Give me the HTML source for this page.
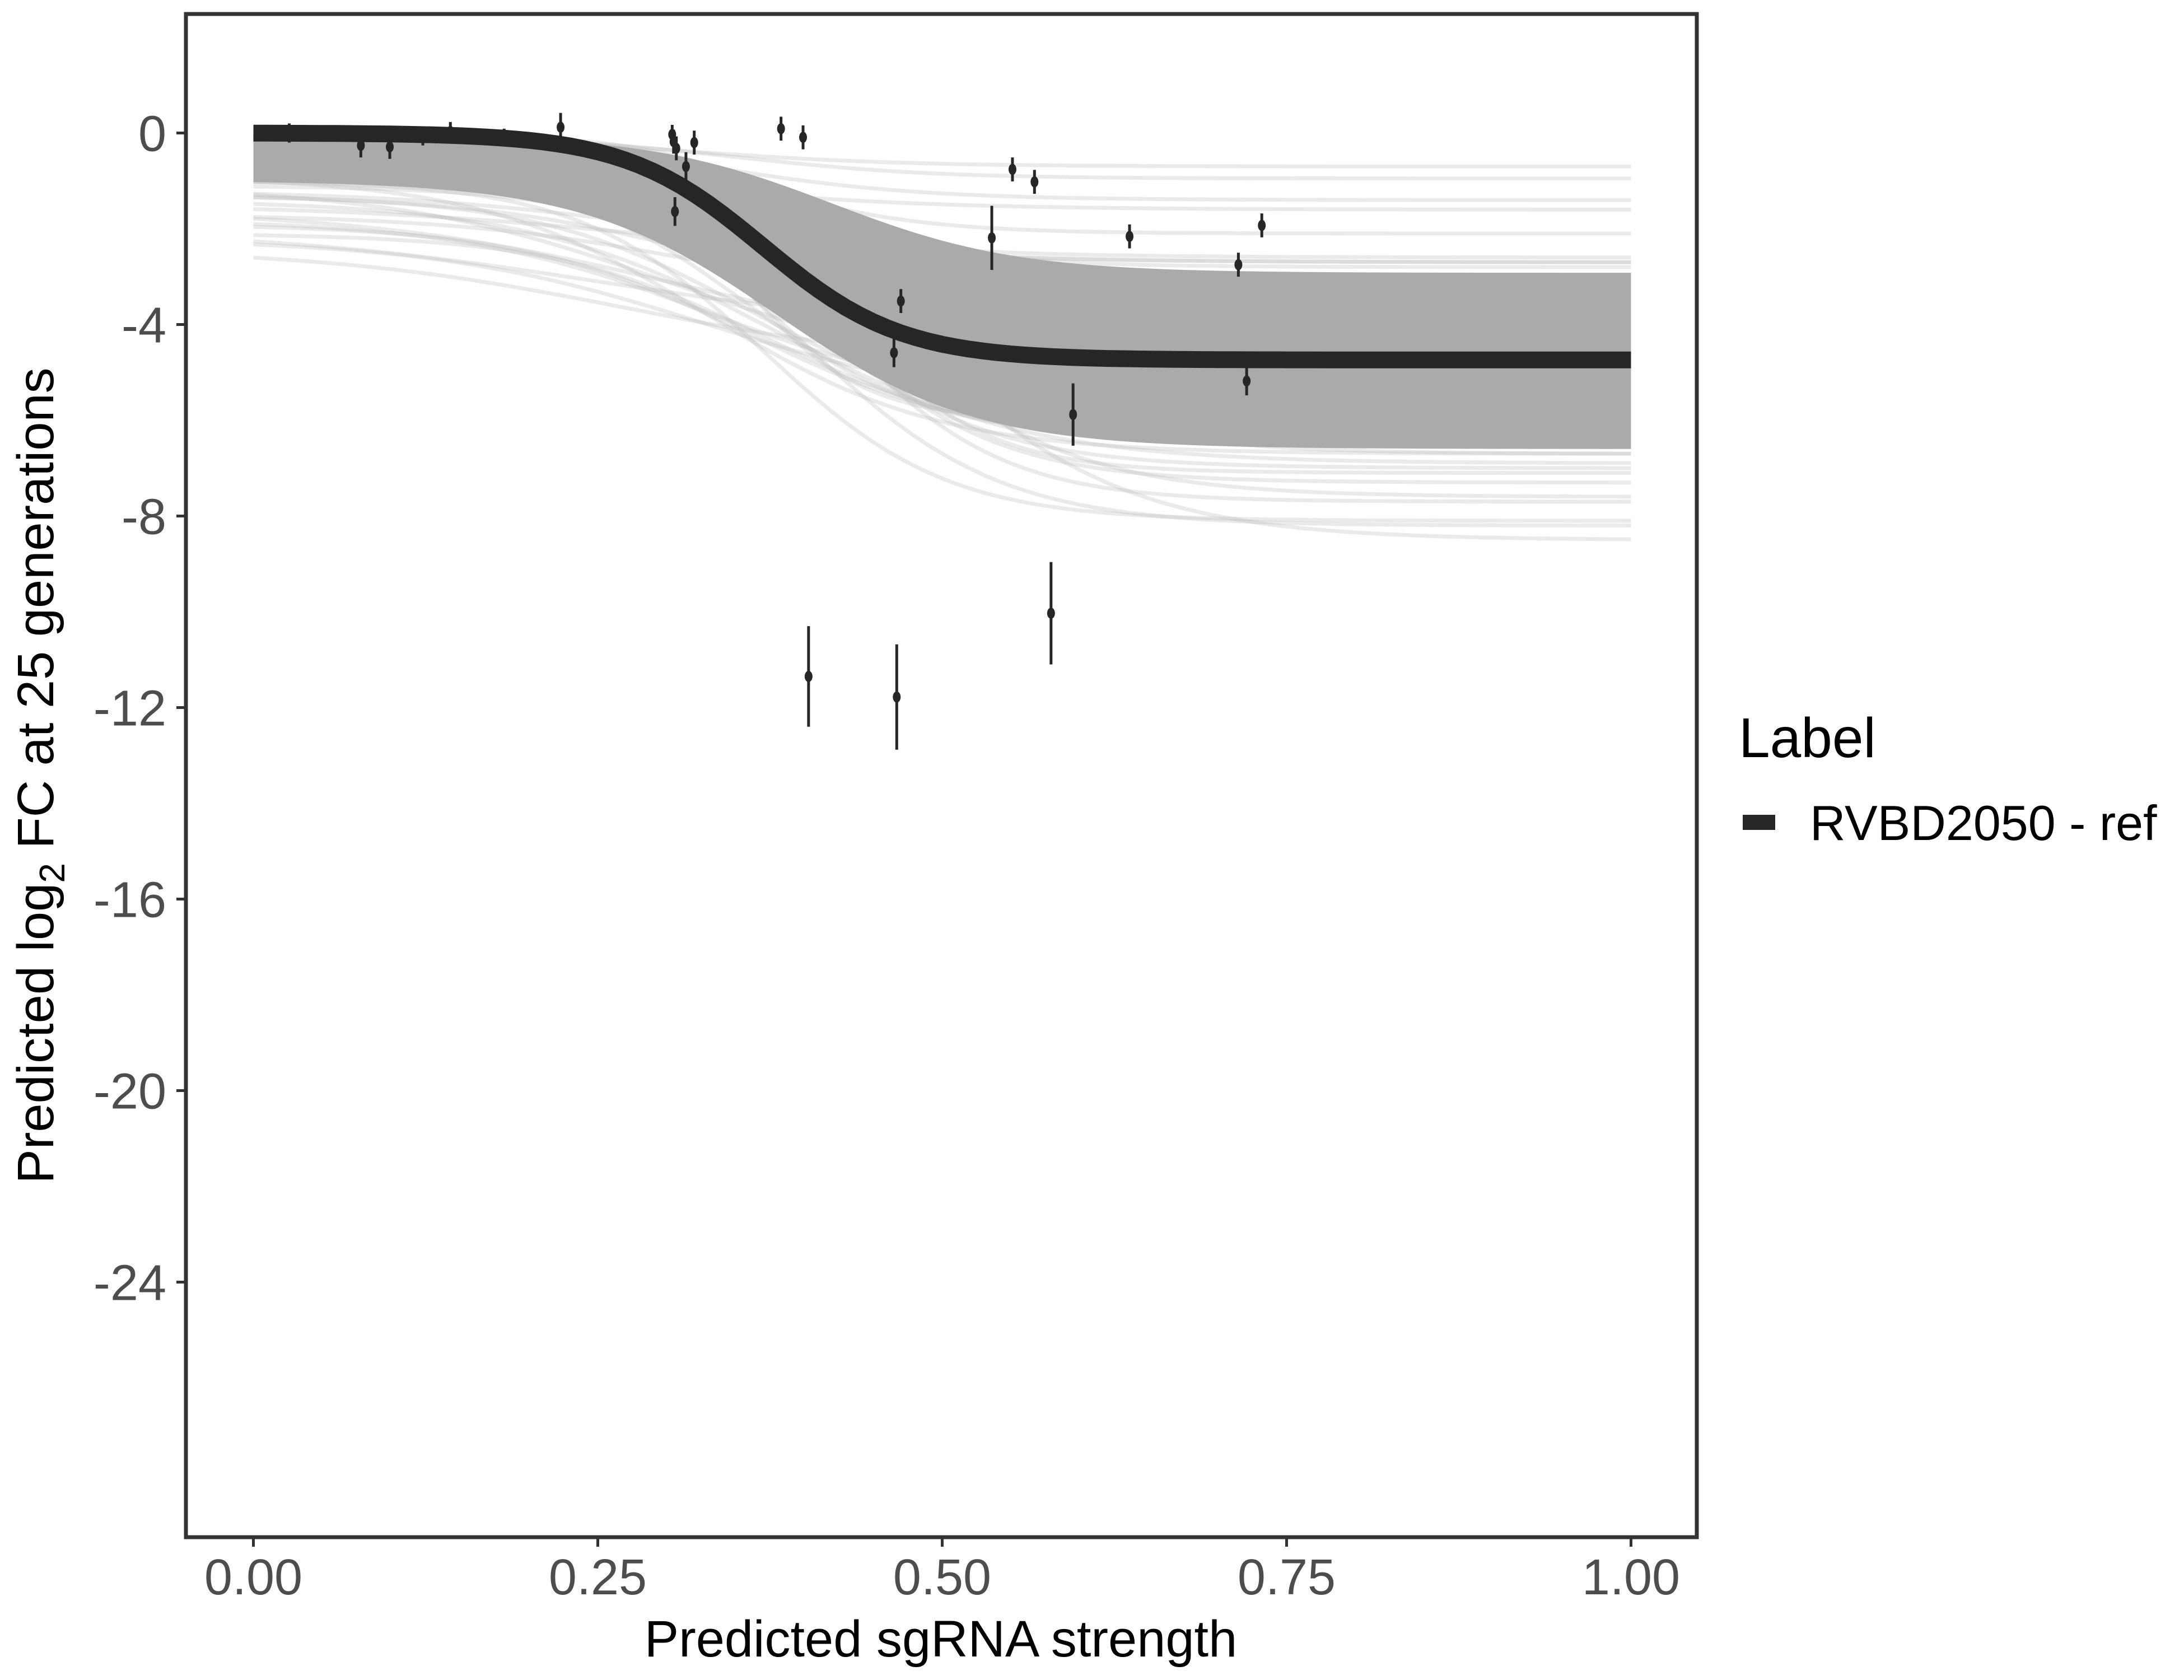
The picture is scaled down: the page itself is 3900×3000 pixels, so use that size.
<!DOCTYPE html>
<html><head><meta charset="utf-8">
<style>html,body{margin:0;padding:0;background:#fff}svg{display:block}</style></head>
<body>
<svg id="chart" width="3900" height="3000" viewBox="0 0 3900 3000" xmlns="http://www.w3.org/2000/svg" font-family="'Liberation Sans', sans-serif">
<rect width="3900" height="3000" fill="#fff"/>
<defs><clipPath id="pc"><rect x="335" y="28" width="2692" height="2714"/></clipPath></defs>
<g id="ens" clip-path="url(#pc)"></g>
<g id="marks"></g>
<rect x="332" y="25" width="2698" height="2720" fill="none" stroke="#333" stroke-width="7"/>
<g id="axes"></g>
<text x="1680" y="2958" font-size="92" text-anchor="middle" fill="#000">Predicted sgRNA strength</text>
<text transform="translate(95,1385) rotate(-90)" font-size="92" text-anchor="middle" fill="#000">Predicted  log<tspan font-size="64" dy="20">2</tspan><tspan dy="-20"> FC at 25 generations</tspan></text>
<text x="3105" y="1352" font-size="100" fill="#000">Label</text>
<rect x="3112" y="1455" width="58" height="27" fill="#262626"/>
<text x="3232" y="1500" font-size="88" fill="#000">RVBD2050 - ref</text>
</svg>
<script>
// data
const xTicks = [0, 0.25, 0.5, 0.75, 1.0];
const xTickLabels = ["0.00", "0.25", "0.50", "0.75", "1.00"];
const yTicks = [0, -4, -8, -12, -16, -20, -24];
const yTickLabels = ["0", "-4", "-8", "-12", "-16", "-20", "-24"];
const meanParams = [-4.74, 0.37, 20, 0]; // A, x0, k, b
const pointX = [0.026,0.078,0.099,0.123,0.143,0.182,0.223,0.304,0.305,0.307,0.314,0.320,0.306,0.383,0.399,0.403,0.467,0.465,0.470,0.536,0.551,0.567,0.579,0.595,0.636,0.715,0.721,0.732];
const pointY = [0,-0.26,-0.29,-0.06,0.03,-0.06,0.12,-0.03,-0.18,-0.32,-0.70,-0.2,-1.64,0.09,-0.09,-11.35,-11.78,-4.59,-3.51,-2.19,-0.76,-1.02,-10.03,-5.88,-2.16,-2.75,-5.18,-1.93];
const pointErr = [0.2,0.25,0.25,0.2,0.2,0.15,0.3,0.2,0.25,0.25,0.3,0.25,0.3,0.25,0.25,1.05,1.1,0.3,0.25,0.67,0.25,0.25,1.07,0.65,0.25,0.25,0.3,0.25];
// light posterior draws: asymptote, midpoint, slope, offset
const drawA = [-0.7,-0.9,-1.1,-1.4,-1.7,-2.0,-2.3,-2.6,-2.9,-3.2,-3.5,-3.8,-4.1,-4.4,-5.0,-5.3,-5.6,-5.9,-6.2,-6.5,-6.8,-7.1,-7.4,-7.6,-8.4,-3.0,-3.6,-4.6,-5.5,-6.4,-2.2,-2.5,-6.0,-7.2,-4.0,-5.8,-1.5,-1.2,-1.9,-2.1,-3.3,-4.8,-5.2,-6.6,-3.9,-4.3];
const drawX0 = [0.3,0.35,0.28,0.33,0.3,0.36,0.32,0.38,0.34,0.4,0.36,0.42,0.38,0.4,0.38,0.41,0.36,0.4,0.43,0.39,0.42,0.37,0.44,0.4,0.47,0.3,0.33,0.36,0.38,0.45,0.25,0.27,0.35,0.42,0.3,0.33,0.3,0.28,0.32,0.35,0.34,0.36,0.4,0.41,0.33,0.37];
const drawK = [12,14,10,13,11,16,12,15,14,18,15,17,16,20,19,18,15,17,16,14,18,15,13,14,12,9,10,12,11,13,8,9,22,16,10,12,10,9,11,12,12,13,14,15,11,13];
const drawB = [0,-0.05,-0.5,0,-0.9,-0.1,-1.3,-0.2,-0.4,-0.1,-0.7,0,-0.3,-0.05,-0.1,-0.4,-0.8,-0.2,-0.1,-0.5,-0.3,-1.0,-0.2,-0.6,-0.1,-1.6,-2.2,-1.9,-1.4,-0.3,-2.0,-2.4,0,-0.5,-1.1,-0.9,-1.2,-1.5,-1.7,-1.0,-0.8,-1.3,-1.1,-0.7,-1.8,-2.1];
const bandUpper = [-0.02, -2.9, 0.42, 15]; // b, A, x0, k
const bandLower = [-1.0, -5.6, 0.38, 14];

const NS = "http://www.w3.org/2000/svg";
const X = v => 452.5 + v * 2460;
const Y = v => 237.5 - v * 34.2 * 2.5;
const logi = (x, A, x0, k, b) => b + A / (1 + Math.exp(-k * (x - x0)));
const ens = document.getElementById('ens');
const marks = document.getElementById('marks');
const axes = document.getElementById('axes');
function mk(tag, attrs, parent){const e=document.createElementNS(NS,tag);for(const k in attrs)e.setAttribute(k,attrs[k]);parent.appendChild(e);return e;}
const xs=[];for(let i=0;i<=100;i++)xs.push(i/100);

for(let i=0;i<drawA.length;i++){
  const d=xs.map((x,j)=>(j?'L':'M')+X(x).toFixed(1)+','+Y(logi(x,drawA[i],drawX0[i],drawK[i],drawB[i])).toFixed(1)).join('');
  const p=mk('path',{d:d,fill:'none',stroke:'#bbbbbb','stroke-opacity':0.3,'stroke-width':7},ens);
  
  
}
let up=xs.map(x=>X(x)+','+Y(logi(x,bandUpper[1],bandUpper[2],bandUpper[3],bandUpper[0])));
let lo=xs.slice().reverse().map(x=>X(x)+','+Y(logi(x,bandLower[1],bandLower[2],bandLower[3],bandLower[0])));
const band=mk('polygon',{points:up.concat(lo).join(' '),fill:'#aaaaaa'},ens);



const md=xs.map((x,j)=>(j?'L':'M')+X(x).toFixed(1)+','+Y(logi(x,meanParams[0],meanParams[1],meanParams[2],meanParams[3])).toFixed(1)).join('');
const mp=mk('path',{d:md,fill:'none',stroke:'#262626','stroke-width':30},marks);


for(let i=0;i<pointX.length;i++){
  const g=mk('g',{},marks);
  
  
  mk('line',{x1:X(pointX[i]),x2:X(pointX[i]),y1:Y(pointY[i]+pointErr[i]),y2:Y(pointY[i]-pointErr[i]),stroke:'#262626','stroke-width':5},g);
  mk('ellipse',{cx:X(pointX[i]),cy:Y(pointY[i]),rx:7,ry:10,fill:'#262626'},g);
}
xTicks.forEach((t,i)=>{
  const l=mk('line',{x1:X(t),x2:X(t),y1:2748,y2:2762,stroke:'#333','stroke-width':5},axes);
  
  
  const tx=mk('text',{x:X(t),y:2847,'font-size':90,'text-anchor':'middle',fill:'#4d4d4d'},axes);
  tx.textContent=xTickLabels[i];
  
  
});
yTicks.forEach((t,i)=>{
  const l=mk('line',{x1:315,x2:329,y1:Y(t),y2:Y(t),stroke:'#333','stroke-width':5},axes);
  
  
  const tx=mk('text',{x:297,y:Y(t)+32,'font-size':90,'text-anchor':'end',fill:'#4d4d4d'},axes);
  tx.textContent=yTickLabels[i];
  
  
});
</script>
</body></html>
